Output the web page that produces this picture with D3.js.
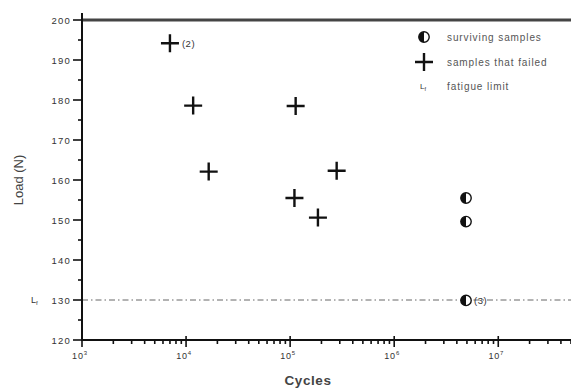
<!DOCTYPE html>
<html>
<head>
<script src="https://d3js.org/d3.v7.min.js"></script>
<style>
  body { margin: 0; background: #fff; }
  text { font-family: "Liberation Sans", Arial, sans-serif; }
</style>
</head>
<body>
<svg width="571" height="391"></svg>
<script>
// failed samples: cycles to failure and load (N)
const failedCycles = [7000, 11700, 16500, 113000, 280000, 110000, 185000];
const failedLoad = [194.2, 178.6, 162.1, 178.5, 162.3, 155.5, 150.6];
// run-outs (surviving samples)
const survCycles = [4.9e6, 4.9e6, 4.9e6];
const survLoad = [155.5, 149.6, 129.9];
const fatigueLimit = 130;
const yTicks = [120, 130, 140, 150, 160, 170, 180, 190, 200];
const xDecades = [1e3, 1e4, 1e5, 1e6, 1e7];
const legendLabels = ["surviving samples", "samples that failed", "fatigue limit"];

const svg = d3.select("svg");
const margin = {left: 82, top: 20, right: 0, bottom: 51};
const W = 571, H = 391;

const x = d3.scaleLog().domain([1e3, 5e7]).range([margin.left, W]);
const y = d3.scaleLinear().domain([120, 200]).range([H - margin.bottom, margin.top]);

const tc = "#333";

// top frame line
svg.append("line")
    .attr("x1", margin.left).attr("x2", W)
    .attr("y1", y(200)).attr("y2", y(200))
    .attr("stroke", "#444").attr("stroke-width", 3);

// fatigue limit dash-dot line
svg.append("line")
    .attr("x1", margin.left).attr("x2", W)
    .attr("y1", y(fatigueLimit)).attr("y2", y(fatigueLimit))
    .attr("stroke", "#666").attr("stroke-width", 1)
    .attr("stroke-dasharray", "6,3,1.5,3");

// y axis
const yMinor = d3.range(125, 200, 10);
const yAxis = svg.append("g").attr("transform", `translate(${margin.left},0)`);
yAxis.append("line")
    .attr("x1", 0).attr("x2", 0).attr("y1", y(200) - 7).attr("y2", y(120) + 1)
    .attr("stroke", "#111").attr("stroke-width", 2);
yAxis.selectAll(".maj").data(yTicks).join("line")
    .attr("x1", -9).attr("x2", 0).attr("y1", d => y(d)).attr("y2", d => y(d))
    .attr("stroke", "#111").attr("stroke-width", 1.6);
yAxis.selectAll(".min").data(yMinor).join("line")
    .attr("x1", -4).attr("x2", 0).attr("y1", d => y(d)).attr("y2", d => y(d))
    .attr("stroke", "#111").attr("stroke-width", 1.6);
yAxis.selectAll("text").data(yTicks).join("text")
    .attr("x", -11).attr("y", d => y(d) + 3.5)
    .attr("text-anchor", "end").attr("font-size", 9.5).attr("letter-spacing", 1.2).attr("fill", tc)
    .text(d => d);

// L_f label next to 130
const lf = svg.append("text").attr("x", 31).attr("y", y(fatigueLimit) + 3)
    .attr("font-size", 9).attr("fill", tc);
lf.append("tspan").text("L");
lf.append("tspan").attr("font-size", 6).attr("dy", 2).text("f");

// x axis
const xMinor = [];
xDecades.forEach(d => { for (let k = 2; k <= 9; k++) if (d * k <= 5e7) xMinor.push(d * k); });
const xAxis = svg.append("g").attr("transform", `translate(0,${y(120)})`);
xAxis.append("line")
    .attr("x1", margin.left - 1).attr("x2", W).attr("y1", 0).attr("y2", 0)
    .attr("stroke", "#111").attr("stroke-width", 2);
xAxis.selectAll(".maj").data(xDecades).join("line")
    .attr("x1", d => x(d)).attr("x2", d => x(d)).attr("y1", -4).attr("y2", 7)
    .attr("stroke", "#111").attr("stroke-width", 1.6);
xAxis.selectAll(".min").data(xMinor).join("line")
    .attr("x1", d => x(d)).attr("x2", d => x(d)).attr("y1", 0).attr("y2", 4)
    .attr("stroke", "#111").attr("stroke-width", 1.6);
xAxis.selectAll("text").data(xDecades).join("text")
    .attr("x", d => x(d) - 2).attr("y", 19)
    .attr("text-anchor", "middle").attr("font-size", 9).attr("letter-spacing", 0.8).attr("fill", tc)
    .each(function(d) {
        const t = d3.select(this);
        t.append("tspan").text("10");
        t.append("tspan").attr("font-size", 6).attr("dy", -4).text(Math.round(Math.log10(d)));
    });

// axis titles
svg.append("text")
    .attr("transform", `translate(23,${(y(200) + y(120)) / 2}) rotate(-90)`)
    .attr("text-anchor", "middle").attr("font-size", 13).attr("fill", "#444")
    .text("Load (N)");
svg.append("text")
    .attr("x", 308).attr("y", 385)
    .attr("text-anchor", "middle").attr("font-size", 13.5).attr("font-weight", "bold")
    .attr("letter-spacing", 0.6).attr("fill", "#444")
    .text("Cycles");

// cross marker
function cross(g, cx, cy, s) {
    g.append("path")
        .attr("d", `M${cx - s},${cy}H${cx + s}M${cx},${cy - s}V${cy + s}`)
        .attr("stroke", "#111").attr("stroke-width", 2.4).attr("fill", "none");
}
// half-filled circle marker
function half(g, cx, cy, r) {
    g.append("circle").attr("cx", cx).attr("cy", cy).attr("r", r)
        .attr("fill", "#fff").attr("stroke", "#111").attr("stroke-width", 1.4);
    g.append("path")
        .attr("d", `M${cx},${cy - r}A${r},${r} 0 0 0 ${cx},${cy + r}Z`)
        .attr("fill", "#111");
}

const marks = svg.append("g");
failedCycles.forEach((c, i) => cross(marks, x(c), y(failedLoad[i]), 9));
survCycles.forEach((c, i) => half(marks, x(c), y(survLoad[i]), 5.2));

// multiplicity annotations
svg.append("text").attr("x", x(failedCycles[0]) + 12).attr("y", y(failedLoad[0]) + 3.5)
    .attr("font-size", 9.5).attr("letter-spacing", 0.5).attr("fill", tc).text("(2)");
svg.append("text").attr("x", x(survCycles[2]) + 8).attr("y", y(survLoad[2]) + 3.5)
    .attr("font-size", 9.5).attr("letter-spacing", 0.5).attr("fill", tc).text("(3)");

// legend
const lg = svg.append("g");
const lx = 424, ly = [37, 62, 86];
half(lg, lx, ly[0], 5.2);
cross(lg, lx, ly[1], 9);
const lfl = lg.append("text").attr("x", lx - 4).attr("y", ly[2] + 3).attr("font-size", 8).attr("fill", tc);
lfl.append("tspan").text("L");
lfl.append("tspan").attr("font-size", 5.5).attr("dy", 2).text("f");
lg.selectAll(".lt").data(legendLabels).join("text")
    .attr("x", 447).attr("y", (d, i) => ly[i] + 3.5)
    .attr("font-size", 10).attr("letter-spacing", 0.9).attr("fill", "#555")
    .text(d => d);
</script>
</body>
</html>
